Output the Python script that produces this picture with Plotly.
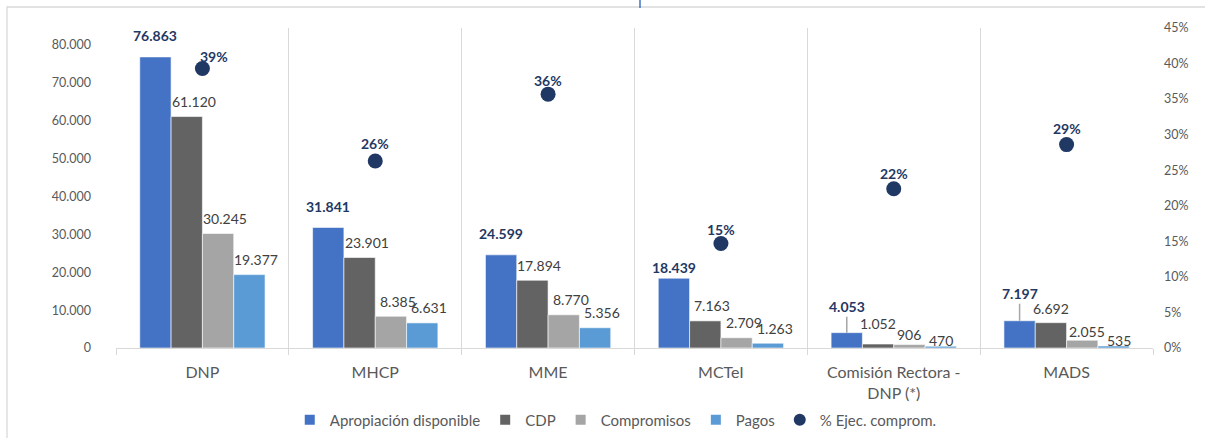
import plotly.graph_objects as go

categories = ["DNP", "MHCP", "MME", "MCTeI", "Comisión Rectora -<br>DNP (*)", "MADS"]
apropiacion = [76863, 31841, 24599, 18439, 4053, 7197]
cdp = [61120, 23901, 17894, 7163, 1052, 6692]
compromisos = [30245, 8385, 8770, 2709, 906, 2055]
pagos = [19377, 6631, 5356, 1263, 470, 535]
pct_ejec = [0.393, 0.263, 0.357, 0.147, 0.224, 0.286]

series_names = ["Apropiación disponible", "CDP", "Compromisos", "Pagos"]
series_vals = [apropiacion, cdp, compromisos, pagos]
series_colors = ["#4472C4", "#636363", "#A5A5A5", "#5B9BD5"]

FONT = "Lato"
NAVY = "#1F3864"
LBL = "#404040"
AX = "#595959"

fig = go.Figure()
for name, vals, col in zip(series_names, series_vals, series_colors):
    fig.add_trace(go.Bar(
        x=categories, y=vals, name=name,
        marker=dict(color=col, line=dict(color="white", width=0.6)),
        hoverinfo="x+y+name",
    ))

fig.add_trace(go.Scatter(
    x=categories, y=pct_ejec, name="% Ejec. comprom.", yaxis="y2",
    mode="markers", marker=dict(color=NAVY, size=15),
))

def fmt(v):
    return f"{v:,}".replace(",", ".")

# label placement (pixels)
bar_w = 172.8 * (1 - 0.275) / 4
offsets = [-1.5 * bar_w, -0.5 * bar_w, 0.5 * bar_w, 1.5 * bar_w]
blue_yshift = [21, 21, 21, 11, 26, 27]
leader = [False, False, False, False, True, True]
# (series index, category index) -> (xshift extra, yshift)
label_shift = {
    (1, 4): (0, 21), (2, 4): (0, 10), (3, 4): (0, 6),
    (1, 5): (0, 14), (2, 5): (5, 9), (3, 5): (5, 5),
}

annotations = []
for si, vals in enumerate(series_vals):
    for ci, (cat, v) in enumerate(zip(categories, vals)):
        if si == 0:
            if leader[ci]:
                annotations.append(dict(
                    x=cat, y=v, xref="x", yref="y", text=f"<b>{fmt(v)}</b>",
                    showarrow=True, arrowhead=0, arrowwidth=1.5, arrowcolor="#A6A6A6",
                    ax=0, ay=-blue_yshift[ci], xshift=offsets[si],
                    font=dict(family=FONT, size=14, color=NAVY),
                ))
            else:
                annotations.append(dict(
                    x=cat, y=v, xref="x", yref="y", text=f"<b>{fmt(v)}</b>",
                    showarrow=False, yanchor="middle", xanchor="center",
                    xshift=offsets[si], yshift=blue_yshift[ci],
                    font=dict(family=FONT, size=14, color=NAVY),
                ))
        else:
            dx, dy = label_shift.get((si, ci), (7, 15))
            annotations.append(dict(
                x=cat, y=v, xref="x", yref="y", text=fmt(v),
                showarrow=False, yanchor="middle", xanchor="center",
                xshift=offsets[si] + dx, yshift=dy,
                font=dict(family=FONT, size=14, color=LBL),
            ))

pct_xshift = [12, 0, 0, 0, 0, 0]
pct_yshift = [12, 17, 14, 14, 15, 16]
for ci, (cat, p) in enumerate(zip(categories, pct_ejec)):
    annotations.append(dict(
        x=cat, y=p, xref="x", yref="y2", text=f"<b>{round(p * 100)}%</b>",
        showarrow=False, yanchor="middle", xanchor="center",
        xshift=pct_xshift[ci], yshift=pct_yshift[ci],
        font=dict(family=FONT, size=14, color=NAVY),
    ))

fig.update_layout(
    width=1205, height=438,
    margin=dict(l=116, r=52, t=28, b=90, autoexpand=False),
    paper_bgcolor="white", plot_bgcolor="white",
    barmode="group", bargap=0.275, bargroupgap=0,
    font=dict(family=FONT, color=AX),
    showlegend=True,
    legend=dict(
        orientation="h", x=0.511, xref="container", xanchor="center",
        y=0.041, yref="container", yanchor="middle",
        font=dict(family=FONT, size=15, color=AX), itemsizing="constant",
        itemwidth=30, traceorder="normal",
    ),
    xaxis=dict(
        type="category", tickson="boundaries", showgrid=True, gridcolor="#D9D9D9",
        gridwidth=1.3, ticks="outside", ticklen=6, tickcolor="#D9D9D9", tickwidth=1.3,
        showline=True, linecolor="#D9D9D9", linewidth=1.3, automargin=False,
        ticklabelstandoff=10,
        tickfont=dict(family=FONT, size=16, color=AX), fixedrange=True,
    ),
    yaxis=dict(
        range=[0, 84500], tickvals=[0, 10000, 20000, 30000, 40000, 50000, 60000, 70000, 80000],
        ticktext=["0", "10.000", "20.000", "30.000", "40.000", "50.000", "60.000", "70.000", "80.000"],
        showgrid=False, zeroline=False, showline=False, ticks="", automargin=False,
        ticklabelstandoff=24, tickfont=dict(family=FONT, size=12.5, color=AX),
    ),
    yaxis2=dict(
        range=[0, 0.45], overlaying="y", side="right", tickformat=".0%", dtick=0.05,
        showgrid=False, zeroline=False, showline=False, ticks="", automargin=False,
        ticklabelstandoff=10, tickfont=dict(family=FONT, size=12.5, color=AX),
    ),
    annotations=annotations,
    shapes=[
        dict(type="rect", xref="paper", yref="paper", x0=-0.1051, x1=1.3, y0=-0.6, y1=1.0656,
             line=dict(color="#D9D9D9", width=1.3), fillcolor="rgba(0,0,0,0)", layer="below"),
        dict(type="line", xref="paper", yref="paper", x0=0.5053, x1=0.5053, y0=1.0625, y1=1.09,
             line=dict(color="#4472C4", width=1.5)),
    ],
)

fig.write_html(
    "out.html",
    config={"displayModeBar": False},
    post_script="document.body.style.margin='0';document.body.style.overflow='hidden';",
)
